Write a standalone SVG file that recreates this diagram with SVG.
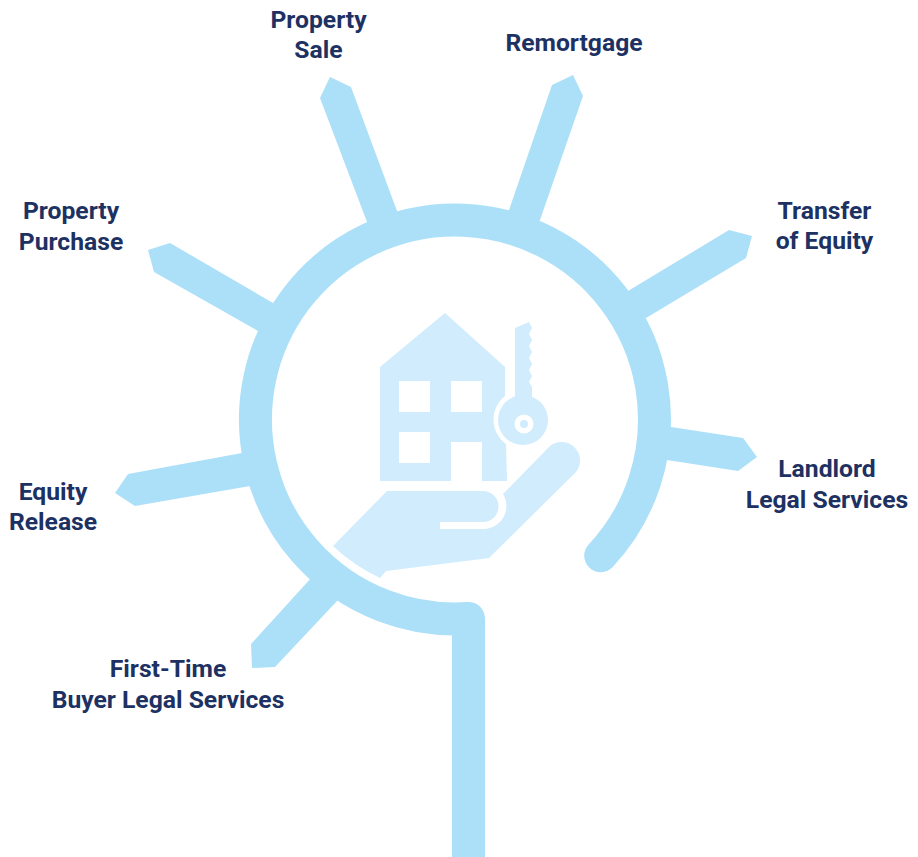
<svg xmlns="http://www.w3.org/2000/svg" width="918" height="857" viewBox="0 0 918 857">
<style>
.ray{fill:#ace0f9}
.ring{fill:none;stroke:#ace0f9;stroke-width:33;stroke-linecap:round;stroke-linejoin:round}
.ic{fill:#d0ecfd}
.hole{fill:#fff}
text{font-family:"Roboto","Liberation Sans",sans-serif;font-weight:700;font-size:24.7px;fill:#1d3163;text-anchor:middle}
</style>
<rect width="918" height="857" fill="#fff"/>
<g id="connectors">
<path class="ring" d="M600.700 555.700A199.500 199.500 0 1 0 468.500 618.500"/>
<path class="ring" style="stroke-linecap:butt" d="M468.500 618.500V857"/>
<polygon class="ray" points="330,77 351,87 397,211 420,240 380,240 367,222 320,98"/>
<polygon class="ray" points="573,75 583,96 540,220 520,240 500,240 509,210 552,85"/>
<polygon class="ray" points="729,230 752,236 746,258 646,318 625,310 628,291"/>
<polygon class="ray" points="671,427 743,438 757,457 738,471 667,460 650,455 650,425"/>
<polygon class="ray" points="148,250 170,243 273,303 285,320 265,340 258,331 154,272"/>
<polygon class="ray" points="115,493 128,474 242,453 260,450 265,482 250,486 135,506"/>
<polygon class="ray" points="251,644 252,668 275,667 338,600 350,590 325,565 312,577"/>
</g>
<g id="icon">
<path class="ic" d="M380 367L445 313L505 367V396A30 30 0 0 0 506 444L507 481H482V442H451V481H380Z"/>
<rect class="hole" x="399" y="381" width="31" height="31"/>
<rect class="hole" x="451" y="381" width="31" height="31"/>
<rect class="hole" x="399" y="432" width="31" height="31"/>
<path class="ic" d="M515 328L529 322L532 328L529 334L532 340L529 346L532 352L529 358L532 364L529 370L532 376L529 382L532 387V397L548 420H500L515 396Z"/>
<circle class="ic" cx="523" cy="420" r="25"/>
<circle class="hole" cx="524" cy="424" r="9.500"/>
<circle class="ic" cx="524" cy="424" r="4"/>
<path class="ic" d="M387 491H483A15.500 15.500 0 0 1 483 522H440V529H484A23 23 0 0 0 503 494L550 446A18.500 18.500 0 0 1 576 472L489 558L386 571L380 578A176 176 0 0 1 333 546Z"/>
</g>
<g id="node-property-sale"><text x="318.500" y="28">Property</text><text x="318.500" y="58">Sale</text></g>
<g id="node-remortgage"><text x="574" y="51">Remortgage</text></g>
<g id="node-transfer-of-equity"><text x="824.500" y="219">Transfer</text><text x="824.500" y="249">of Equity</text></g>
<g id="node-landlord"><text x="827" y="477">Landlord</text><text x="827" y="508">Legal Services</text></g>
<g id="node-property-purchase"><text x="71" y="219">Property</text><text x="71" y="250">Purchase</text></g>
<g id="node-equity-release"><text x="53" y="500">Equity</text><text x="53" y="530">Release</text></g>
<g id="node-first-time"><text x="168" y="677">First-Time</text><text x="168" y="708">Buyer Legal Services</text></g>
</svg>
